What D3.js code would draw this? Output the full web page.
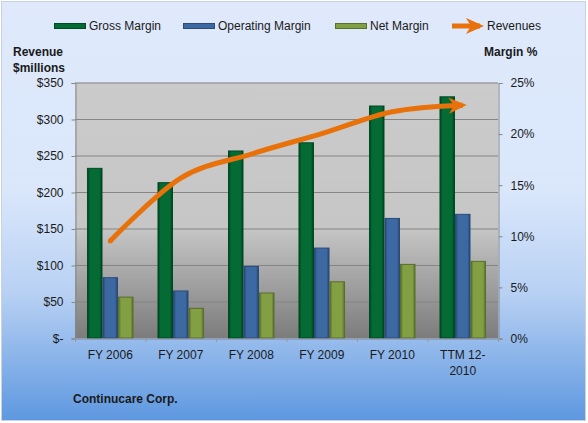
<!DOCTYPE html>
<html>
<head>
<meta charset="utf-8">
<script src="https://cdn.jsdelivr.net/npm/d3@7"></script>
<style>
  html, body { margin: 0; padding: 0; background: #fff; }
  svg text { font-family: "Liberation Sans", Arial, sans-serif; font-size: 12px; fill: #1a1a1a; }
</style>
</head>
<body>
<div id="chart"></div>
<script>
// chart data
const categories = ["FY 2006", "FY 2007", "FY 2008", "FY 2009", "FY 2010", "TTM 12-2010"];
const grossMargin = [16.6, 15.2, 18.3, 19.1, 22.7, 23.6];
const operatingMargin = [5.9, 4.6, 7.0, 8.8, 11.7, 12.1];
const netMargin = [4.0, 2.9, 4.4, 5.5, 7.2, 7.5];
const revenues = [133, 219, 252, 280, 310, 319];
const revenueTicks = [0, 50, 100, 150, 200, 250, 300, 350];
const marginTicks = [0, 5, 10, 15, 20, 25];

const W = 588, H = 423;
const plot = { left: 75, right: 498, top: 82.5, bottom: 338 };

const series = [
  { name: "Gross Margin", values: grossMargin, base: "#036b33", dark: "#01401e", edge: "#024a24" },
  { name: "Operating Margin", values: operatingMargin, base: "#3d69a3", dark: "#25446d", edge: "#2b4b78" },
  { name: "Net Margin", values: netMargin, base: "#82a043", dark: "#56702a", edge: "#5a6e2e" }
];

const svg = d3.select("#chart").append("svg")
  .attr("width", W).attr("height", H);

const defs = svg.append("defs");

// outer background gradient
const bg = defs.append("linearGradient").attr("id", "bgGrad")
  .attr("x1", 0).attr("y1", 0).attr("x2", 0).attr("y2", 1);
bg.append("stop").attr("offset", "0%").attr("stop-color", "#dfe9fb");
bg.append("stop").attr("offset", "45%").attr("stop-color", "#dae7fb");
bg.append("stop").attr("offset", "70%").attr("stop-color", "#b7d0f3");
bg.append("stop").attr("offset", "100%").attr("stop-color", "#5e98e0");

// plot area gradient
const pg = defs.append("linearGradient").attr("id", "plotGrad")
  .attr("x1", 0).attr("y1", 0).attr("x2", 0).attr("y2", 1);
pg.append("stop").attr("offset", "0%").attr("stop-color", "#cbcbcb");
pg.append("stop").attr("offset", "57%").attr("stop-color", "#c6c6c6");
pg.append("stop").attr("offset", "100%").attr("stop-color", "#7c7c7c");

// bevel-ish bar gradients
series.forEach((s, i) => {
  const g = defs.append("linearGradient").attr("id", "barGrad" + i)
    .attr("x1", 0).attr("y1", 0).attr("x2", 1).attr("y2", 0);
  g.append("stop").attr("offset", "0%").attr("stop-color", s.dark);
  g.append("stop").attr("offset", "18%").attr("stop-color", s.base);
  g.append("stop").attr("offset", "82%").attr("stop-color", s.base);
  g.append("stop").attr("offset", "100%").attr("stop-color", s.dark);
});

// arrow marker for the revenue line
defs.append("marker").attr("id", "arrow")
  .attr("markerUnits", "userSpaceOnUse")
  .attr("viewBox", "0 -9 18 18")
  .attr("refX", 14).attr("refY", 0)
  .attr("markerWidth", 18).attr("markerHeight", 18)
  .attr("orient", "auto")
  .append("path")
  .attr("d", "M0,-8 L18,0 L0,8 L5,0 Z")
  .attr("fill", "#e8710a");

svg.append("rect")
  .attr("x", 1.5).attr("y", 1.5).attr("width", W - 4).attr("height", H - 4)
  .attr("fill", "url(#bgGrad)").attr("stroke", "#c9d3de").attr("stroke-width", 1);

// scales
const x0 = d3.scaleBand().domain(categories)
  .range([plot.left, plot.right]).paddingInner(0.34).paddingOuter(0.17);
const x1 = d3.scaleBand().domain(series.map(s => s.name))
  .range([0, x0.bandwidth()]);
const yRev = d3.scaleLinear().domain([0, 350]).range([plot.bottom, plot.top]);
const yPct = d3.scaleLinear().domain([0, 25]).range([plot.bottom, plot.top]);

svg.append("rect")
  .attr("x", plot.left).attr("y", plot.top)
  .attr("width", plot.right - plot.left).attr("height", plot.bottom - plot.top)
  .attr("fill", "url(#plotGrad)");

// gridlines
svg.append("g").selectAll("line")
  .data(revenueTicks.slice(1))
  .join("line")
  .attr("x1", plot.left).attr("x2", plot.right)
  .attr("y1", d => yRev(d) + 0.5).attr("y2", d => yRev(d) + 0.5)
  .attr("stroke", "#858585").attr("stroke-width", 1);

// left axis
const leftAxis = d3.axisLeft(yRev).tickValues(revenueTicks).tickSize(4).tickPadding(8)
  .tickFormat(d => d === 0 ? "$-" : "$" + d);
const gl = svg.append("g").attr("transform", `translate(${plot.left + 0.5},0.5)`).call(leftAxis);

// right axis
const rightAxis = d3.axisRight(yPct).tickValues(marginTicks).tickSize(4).tickPadding(8)
  .tickFormat(d => d + "%");
const gr = svg.append("g").attr("transform", `translate(${plot.right + 0.5},0.5)`).call(rightAxis);

[gl, gr].forEach(g => {
  g.select(".domain").attr("stroke", "#868686");
  g.selectAll(".tick line").attr("stroke", "#868686");
  g.selectAll(".tick text").style("font-size", "12px").attr("fill", "#1a1a1a")
    .attr("font-family", "Liberation Sans, Arial, sans-serif");
});

// bars
const groups = svg.append("g").selectAll("g")
  .data(categories)
  .join("g")
  .attr("transform", d => `translate(${x0(d)},0)`);

groups.selectAll("rect")
  .data((c, ci) => series.map((s, si) => ({ s, si, v: s.values[ci] })))
  .join("rect")
  .attr("x", d => x1(d.s.name) + 0.5)
  .attr("width", x1.bandwidth() - 1)
  .attr("y", d => yPct(d.v))
  .attr("height", d => yPct(0) - yPct(d.v))
  .attr("fill", d => `url(#barGrad${d.si})`)
  .attr("stroke", d => d.s.edge).attr("stroke-width", 1);

// x axis baseline and ticks
const xAxis = d3.axisBottom(x0).tickSize(0).tickFormat("");
const gx = svg.append("g").attr("transform", `translate(0,${plot.bottom + 0.5})`).call(xAxis);
gx.select(".domain").attr("stroke", "#868686");
const step = x0.step();
svg.append("g").selectAll("line")
  .data(d3.range(categories.length + 1))
  .join("line")
  .attr("x1", i => plot.left + i * step + 0.5).attr("x2", i => plot.left + i * step + 0.5)
  .attr("y1", plot.bottom).attr("y2", plot.bottom + 4)
  .attr("stroke", "#9a9a9a");

// category labels (wrapped like the original)
const labelLines = { "TTM 12-2010": ["TTM 12-", "2010"] };
svg.append("g").selectAll("text")
  .data(categories)
  .join("text")
  .attr("text-anchor", "middle")
  .attr("x", d => x0(d) + x0.bandwidth() / 2)
  .attr("y", plot.bottom + 21)
  .each(function (d) {
    const lines = labelLines[d] || [d];
    d3.select(this).selectAll("tspan").data(lines).join("tspan")
      .attr("x", x0(d) + x0.bandwidth() / 2)
      .attr("dy", (l, i) => i === 0 ? 0 : 16)
      .text(l => l);
  });

// revenue line
const line = d3.line()
  .x((d, i) => x0(categories[i]) + x0.bandwidth() / 2)
  .y(d => yRev(d))
  .curve(d3.curveCatmullRom.alpha(0));

svg.append("path")
  .datum(revenues)
  .attr("d", line)
  .attr("fill", "none")
  .attr("stroke", "#e8710a")
  .attr("stroke-width", 5)
  .attr("stroke-linecap", "butt")
  .attr("marker-end", "url(#arrow)");

svg.append("circle")
  .attr("cx", x0(categories[0]) + x0.bandwidth() / 2)
  .attr("cy", yRev(revenues[0]))
  .attr("r", 2.5)
  .attr("fill", "#e8710a");

// axis titles
svg.append("text").attr("x", 13).attr("y", 56).attr("font-weight", "bold").text("Revenue");
svg.append("text").attr("x", 13).attr("y", 72).attr("font-weight", "bold").text("$millions");
svg.append("text").attr("x", 484).attr("y", 56).attr("font-weight", "bold").text("Margin %");
svg.append("text").attr("x", 73).attr("y", 403).attr("font-weight", "bold").text("Continucare Corp.");

// legend
const legendItems = [
  { label: "Gross Margin", x: 54, si: 0 },
  { label: "Operating Margin", x: 183, si: 1 },
  { label: "Net Margin", x: 335, si: 2 },
  { label: "Revenues", x: 452, si: -1 }
];
const lg = svg.append("g");
legendItems.forEach(item => {
  if (item.si >= 0) {
    const s = series[item.si];
    lg.append("rect")
      .attr("x", item.x + 0.5).attr("y", 23.5).attr("width", 31).attr("height", 5)
      .attr("fill", s.base).attr("stroke", s.edge);
  } else {
    lg.append("line")
      .attr("x1", item.x).attr("x2", item.x + 28)
      .attr("y1", 26).attr("y2", 26)
      .attr("stroke", "#e8710a").attr("stroke-width", 5)
      .attr("marker-end", "url(#arrow)");
  }
  lg.append("text").attr("x", item.x + 35).attr("y", 30).text(item.label);
});
</script>
</body>
</html>
